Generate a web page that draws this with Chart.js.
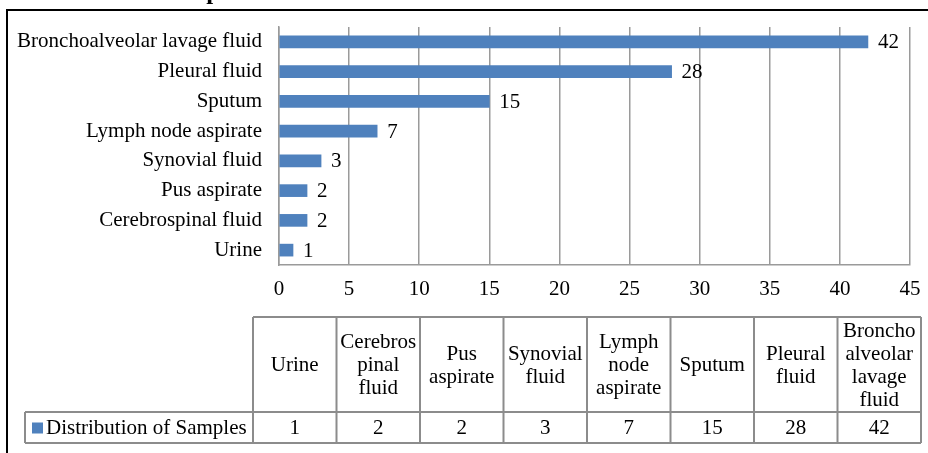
<!DOCTYPE html>
<html>
<head>
<meta charset="utf-8">
<script src="https://cdn.jsdelivr.net/npm/chart.js@4.4.0/dist/chart.umd.min.js"></script>
<style>
  html, body { margin: 0; padding: 0; background: #ffffff; }
  #wrap { width: 928px; height: 453px; position: relative; }
</style>
</head>
<body>
<div id="wrap"><canvas id="c" width="928" height="453"></canvas></div>
<script>
// ---- data ----
const titleText = 'Distribution of Samples';
const seriesName = 'Distribution of Samples';
const categories = ['Urine', 'Cerebrospinal fluid', 'Pus aspirate', 'Synovial fluid',
                    'Lymph node aspirate', 'Sputum', 'Pleural fluid', 'Bronchoalveolar lavage fluid'];
const values = [1, 2, 2, 3, 7, 15, 28, 42];
const tableHeaderLines = [
  ['Urine'],
  ['Cerebros', 'pinal', 'fluid'],
  ['Pus', 'aspirate'],
  ['Synovial', 'fluid'],
  ['Lymph', 'node', 'aspirate'],
  ['Sputum'],
  ['Pleural', 'fluid'],
  ['Broncho', 'alveolar', 'lavage', 'fluid']
];
const axisMin = 0, axisMax = 45, axisStep = 5;

// ---- styles ----
const FONT = '"Liberation Serif", "Times New Roman", serif';
const BAR_COLOR = '#4F81BD';
const GRID_COLOR = '#9a9a9a';
const TABLE_COLOR = '#8c8c8c';

const framePlugin = {
  id: 'frame',
  beforeDraw(chart) {
    const ctx = chart.ctx;
    ctx.save();
    ctx.fillStyle = '#ffffff';
    ctx.fillRect(0, 0, chart.width, chart.height);
    // title (cut off at top)
    ctx.fillStyle = '#000';
    ctx.font = 'bold 25px ' + FONT;
    ctx.textAlign = 'left';
    ctx.textBaseline = 'alphabetic';
    ctx.fillText(titleText, -5, -1);
    // black frame
    ctx.strokeStyle = '#000';
    ctx.lineWidth = 2;
    ctx.beginPath();
    ctx.moveTo(7, 453); ctx.lineTo(7, 10); ctx.lineTo(928, 10);
    ctx.stroke();
    ctx.restore();
  }
};

const valueLabels = {
  id: 'valueLabels',
  afterDatasetsDraw(chart) {
    const ctx = chart.ctx;
    const meta = chart.getDatasetMeta(0);
    ctx.save();
    ctx.fillStyle = '#000';
    ctx.font = '21px ' + FONT;
    ctx.textAlign = 'left';
    ctx.textBaseline = 'middle';
    meta.data.forEach((bar, i) => {
      ctx.fillText(String(values[i]), bar.x + 10, bar.y + 1);
    });
    ctx.restore();
  }
};

const dataTable = {
  id: 'dataTable',
  afterDraw(chart) {
    const ctx = chart.ctx;
    const left = 253, right = 921, top = 317, mid = 412, bottom = 443, legendLeft = 25;
    const n = categories.length;
    const colW = (right - left) / n;
    ctx.save();
    ctx.strokeStyle = TABLE_COLOR;
    ctx.lineWidth = 2;
    ctx.beginPath();
    ctx.moveTo(left, top); ctx.lineTo(right, top);
    ctx.moveTo(legendLeft, mid); ctx.lineTo(right, mid);
    ctx.moveTo(legendLeft, bottom); ctx.lineTo(right, bottom);
    ctx.moveTo(legendLeft, mid); ctx.lineTo(legendLeft, bottom);
    for (let i = 0; i <= n; i++) {
      const x = left + i * colW;
      ctx.moveTo(x, top); ctx.lineTo(x, bottom);
    }
    ctx.stroke();

    ctx.fillStyle = '#000';
    ctx.font = '21px ' + FONT;
    ctx.textAlign = 'center';
    ctx.textBaseline = 'middle';
    const lh = 23;
    const hc = (top + mid) / 2 + 1;
    tableHeaderLines.forEach((lines, i) => {
      const cx = left + (i + 0.5) * colW;
      const y0 = hc - (lines.length - 1) * lh / 2;
      lines.forEach((t, k) => ctx.fillText(t, cx, y0 + k * lh));
    });
    const rc = (mid + bottom) / 2 + 1;
    values.forEach((v, i) => {
      ctx.fillText(String(v), left + (i + 0.5) * colW, rc);
    });
    // legend key
    ctx.fillStyle = BAR_COLOR;
    ctx.fillRect(32, rc - 6, 11, 11);
    ctx.fillStyle = '#000';
    ctx.textAlign = 'left';
    ctx.fillText(seriesName, 46, rc);
    ctx.restore();
  }
};

new Chart(document.getElementById('c'), {
  type: 'bar',
  data: {
    labels: categories,
    datasets: [{
      label: seriesName,
      data: values,
      backgroundColor: BAR_COLOR,
      borderWidth: 0,
      barThickness: 12
    }]
  },
  options: {
    indexAxis: 'y',
    responsive: false,
    animation: false,
    devicePixelRatio: 1,
    layout: { padding: { left: 0, right: 18, top: 27, bottom: 0 } },
    plugins: { legend: { display: false }, tooltip: { enabled: false }, title: { display: false } },
    scales: {
      x: {
        min: axisMin, max: axisMax,
        ticks: { stepSize: axisStep, color: '#000', font: { family: FONT, size: 21 }, padding: 12, maxRotation: 0 },
        grid: { display: true, color: GRID_COLOR, lineWidth: 1.5, drawTicks: false },
        border: { display: true, color: GRID_COLOR, width: 1.5 },
        afterFit(scale) { scale.height = 188; scale.paddingRight = 0; scale.paddingLeft = 0; }
      },
      y: {
        reverse: true,
        ticks: { color: '#000', font: { family: FONT, size: 21 }, padding: 17, autoSkip: false },
        grid: { display: false, drawTicks: false },
        border: { display: true, color: GRID_COLOR, width: 1.5 },
        afterFit(scale) { scale.width = 279; scale.paddingTop = 0; scale.paddingBottom = 0; }
      }
    }
  },
  plugins: [framePlugin, valueLabels, dataTable]
});
</script>
</body>
</html>
